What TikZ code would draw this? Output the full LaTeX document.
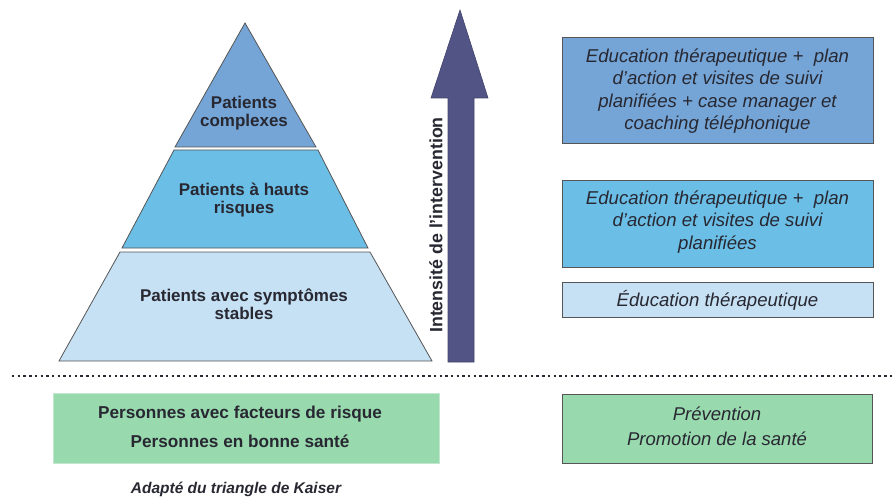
\documentclass[tikz,border=0pt]{standalone}
\usepackage{fontspec}
\setmainfont{Liberation Sans}
\definecolor{bandA}{RGB}{116,165,214}
\definecolor{bandB}{RGB}{107,190,230}
\definecolor{bandC}{RGB}{198,225,244}
\definecolor{greenbox}{RGB}{152,217,174}
\definecolor{arrowcol}{RGB}{82,84,134}
\definecolor{edge}{RGB}{85,85,85}
\definecolor{txt}{RGB}{40,40,50}
\tikzset{
  band/.style={draw=edge, line width=0.8pt},
  pyrtext/.style={font=\fontsize{17}{18.5}\selectfont\bfseries, text=txt, align=center, inner sep=0pt},
  rbox/.style={draw=edge, line width=0.9pt},
  rtext/.style={font=\fontsize{18.6}{22.5}\selectfont\itshape, text=txt, align=center, inner sep=0pt},
}
\begin{document}
\begin{tikzpicture}[x=1pt,y=-1pt]
\useasboundingbox (0,0) rectangle (894,497);
% pyramid bands
\path[band, fill=bandA] (245,23) -- (316,147) -- (175,147) -- cycle;
\path[band, fill=bandB] (174,150) -- (318,150) -- (368,248) -- (122,248) -- cycle;
\path[band, fill=bandC] (120,252) -- (370,252) -- (432,361) -- (59,361) -- cycle;
\node[pyrtext] (pc) at (244,113) {Patients\\complexes};
\node[pyrtext] (ph) at (244,200) {Patients à hauts\\risques};
\node[pyrtext] (ps) at (244,304) {Patients avec symptômes\\stables};
% arrow
\path[fill=arrowcol, draw=arrowcol!80!black, line width=0.6pt]
  (460,10) -- (488,98) -- (474,98) -- (474,362) -- (448,362) -- (448,98) -- (431,98) -- cycle;
\node[font=\fontsize{17.8}{19}\selectfont\bfseries, text=txt, rotate=90, inner sep=0pt] (int) at (436,225) {Intensité de l'intervention};
% right boxes
\path[rbox, fill=bandA] (562,37) rectangle (873,143);
\node[rtext] (r1) at (717.5,91) {Education thérapeutique +\ \ plan\\d'action et visites de suivi\\planifiées + case manager et\\coaching téléphonique};
\path[rbox, fill=bandB] (562,180) rectangle (873,267);
\node[rtext] (r2) at (717.5,222) {Education thérapeutique +\ \ plan\\d'action et visites de suivi\\planifiées};
\path[rbox, fill=bandC] (562,282) rectangle (873,317);
\node[rtext] (r3) at (717.5,300) {Éducation thérapeutique};
% dotted separator
\coordinate (dl) at (12,376);
\coordinate (dr) at (894,376);
\draw[txt, line width=2.4pt, dash pattern=on 2.4pt off 3.3pt] (dl) -- (dr);
% bottom boxes
\path[fill=greenbox, draw=greenbox!60!white, line width=0.8pt] (53,393) rectangle (439,463);
\node[font=\fontsize{17.2}{29}\selectfont\bfseries, text=txt, align=center, inner sep=0pt] (pl) at (240,427) {Personnes avec facteurs de risque\\Personnes en bonne santé};
\path[rbox, fill=greenbox] (562,394) rectangle (872,463);
\node[font=\fontsize{18.5}{25}\selectfont\itshape, text=txt, align=center, inner sep=0pt] (pr) at (717,426) {Prévention\\Promotion de la santé};
\node[font=\fontsize{15.5}{17}\selectfont\bfseries\itshape, text=txt, inner sep=0pt] (cap) at (236,489) {Adapté du triangle de Kaiser};
\end{tikzpicture}
\end{document}
